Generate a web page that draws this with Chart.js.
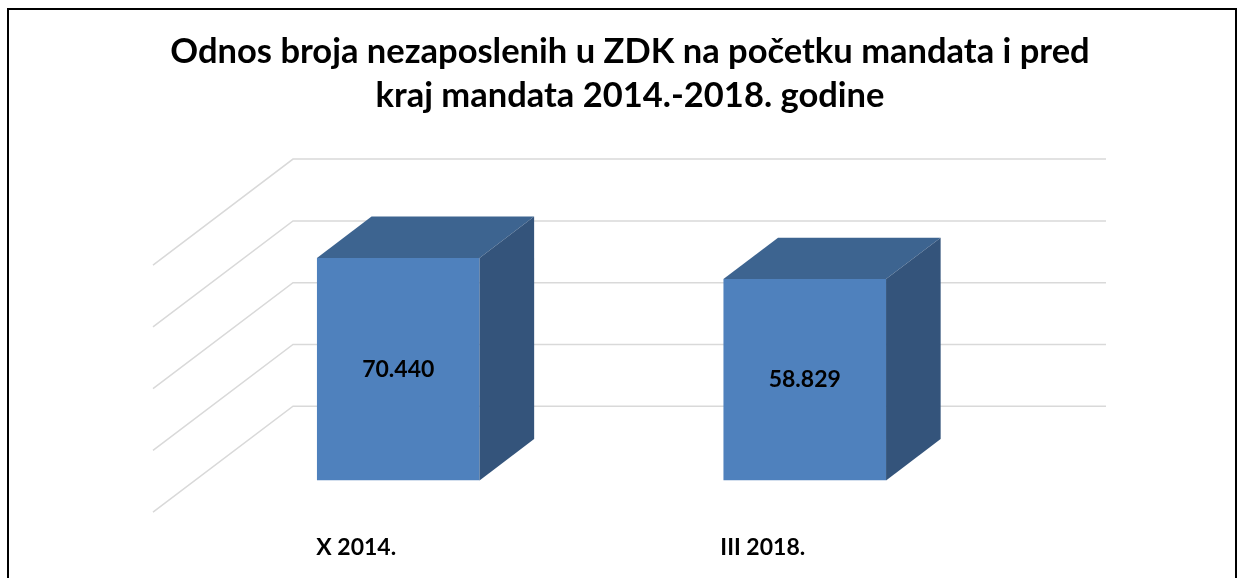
<!DOCTYPE html>
<html>
<head>
<meta charset="utf-8">
<script src="https://cdn.jsdelivr.net/npm/chart.js"></script>
<style>
  html, body { margin: 0; padding: 0; background: #fff; overflow: hidden; }
  #frame { position: absolute; left: 7px; top: 8px; width: 1230px; height: 700px; border: 2px solid #000; box-sizing: border-box; }
  #chart { position: absolute; left: 0; top: 0; }
</style>
</head>
<body>
<div id="frame"></div>
<canvas id="chart" width="1244" height="606"></canvas>
<script>
const categories = ['X 2014.', 'III 2018.'];
const unemployed = [70440, 58829];
const titleLines = ['Odnos broja nezaposlenih u ZDK na početku mandata i pred', 'kraj mandata 2014.-2018. godine'];

// value axis range (hidden), one gridline per step on the back wall
const axisMin = -52000;
const axisMax = 84000;
const axisStep = 34000;

const frontColor = '#4f81bd';
const topColor = '#3d6490';
const sideColor = '#34547b';
const gridColor = '#d9d9d9';

// oblique depth of the floor, and where the columns sit along it
const depth = { x: 140, y: -106 };
const frontAt = 0.30;
const backAt = 0.69;

const fmt = v => String(v).replace(/\B(?=(\d{3})+(?!\d))/g, '.');

// empty side axes, only there to reserve room left and right of the plot
const spacer = (position, w) => ({
  position,
  min: axisMin,
  max: axisMax,
  ticks: { display: false, stepSize: axisStep },
  grid: { display: false },
  border: { display: false },
  afterFit(scale) { scale.width = w; }
});

const walls3d = {
  id: 'walls3d',
  beforeDatasetsDraw(chart) {
    const { ctx, chartArea: a, scales: { y } } = chart;
    const bx = depth.x * (1 - frontAt), by = depth.y * (1 - frontAt);
    const fx = -depth.x * frontAt, fy = -depth.y * frontAt;
    ctx.save();
    ctx.strokeStyle = gridColor;
    ctx.lineWidth = 1.5;
    for (let v = axisMin; v <= axisMax; v += axisStep) {
      const py = y.getPixelForValue(v);
      ctx.beginPath();
      ctx.moveTo(a.left + fx, py + fy);
      ctx.lineTo(a.left + bx, py + by);
      ctx.lineTo(a.right + bx, py + by);
      ctx.stroke();
    }
    ctx.restore();
  },
  afterDatasetsDraw(chart) {
    const { ctx } = chart;
    const meta = chart.getDatasetMeta(0);
    const dx = depth.x * (backAt - frontAt), dy = depth.y * (backAt - frontAt);
    ctx.save();
    meta.data.forEach((bar, i) => {
      const { x, y, base, width } = bar.getProps(['x', 'y', 'base', 'width'], true);
      const l = x - width / 2, r = x + width / 2;

      ctx.fillStyle = topColor;
      ctx.beginPath();
      ctx.moveTo(l, y);
      ctx.lineTo(l + dx, y + dy);
      ctx.lineTo(r + dx, y + dy);
      ctx.lineTo(r, y);
      ctx.closePath();
      ctx.fill();

      ctx.fillStyle = sideColor;
      ctx.beginPath();
      ctx.moveTo(r, y);
      ctx.lineTo(r + dx, y + dy);
      ctx.lineTo(r + dx, base + dy);
      ctx.lineTo(r, base);
      ctx.closePath();
      ctx.fill();

      ctx.fillStyle = '#000';
      ctx.font = 'bold 23px Lato';
      ctx.textAlign = 'center';
      ctx.textBaseline = 'middle';
      ctx.fillText(fmt(unemployed[i]), x, (y + base) / 2);
    });
    ctx.restore();
  }
};

new Chart(document.getElementById('chart'), {
  type: 'bar',
  data: {
    labels: categories,
    datasets: [{
      data: unemployed,
      base: axisMin,
      backgroundColor: frontColor,
      barPercentage: 0.4,
      categoryPercentage: 1.0
    }]
  },
  options: {
    responsive: false,
    animation: false,
    devicePixelRatio: 1,
    layout: { padding: { left: 16, right: 0, top: 0, bottom: 0 } },
    plugins: {
      legend: { display: false },
      tooltip: { enabled: false },
      title: {
        display: true,
        text: titleLines,
        color: '#000',
        font: { family: 'Lato', size: 34.5, weight: 'bold', lineHeight: 1.28 },
        padding: { top: 30, bottom: 115 }
      }
    },
    scales: {
      x: {
        grid: { display: false },
        border: { display: false },
        ticks: {
          color: '#000',
          font: { family: 'Lato', size: 23, weight: 'bold' },
          labelOffset: -42,
          padding: 45,
          maxRotation: 0,
          autoSkip: false
        }
      },
      y: spacer('left', 179),
      yRight: spacer('right', 236)
    }
  },
  plugins: [walls3d]
});
</script>
</body>
</html>
